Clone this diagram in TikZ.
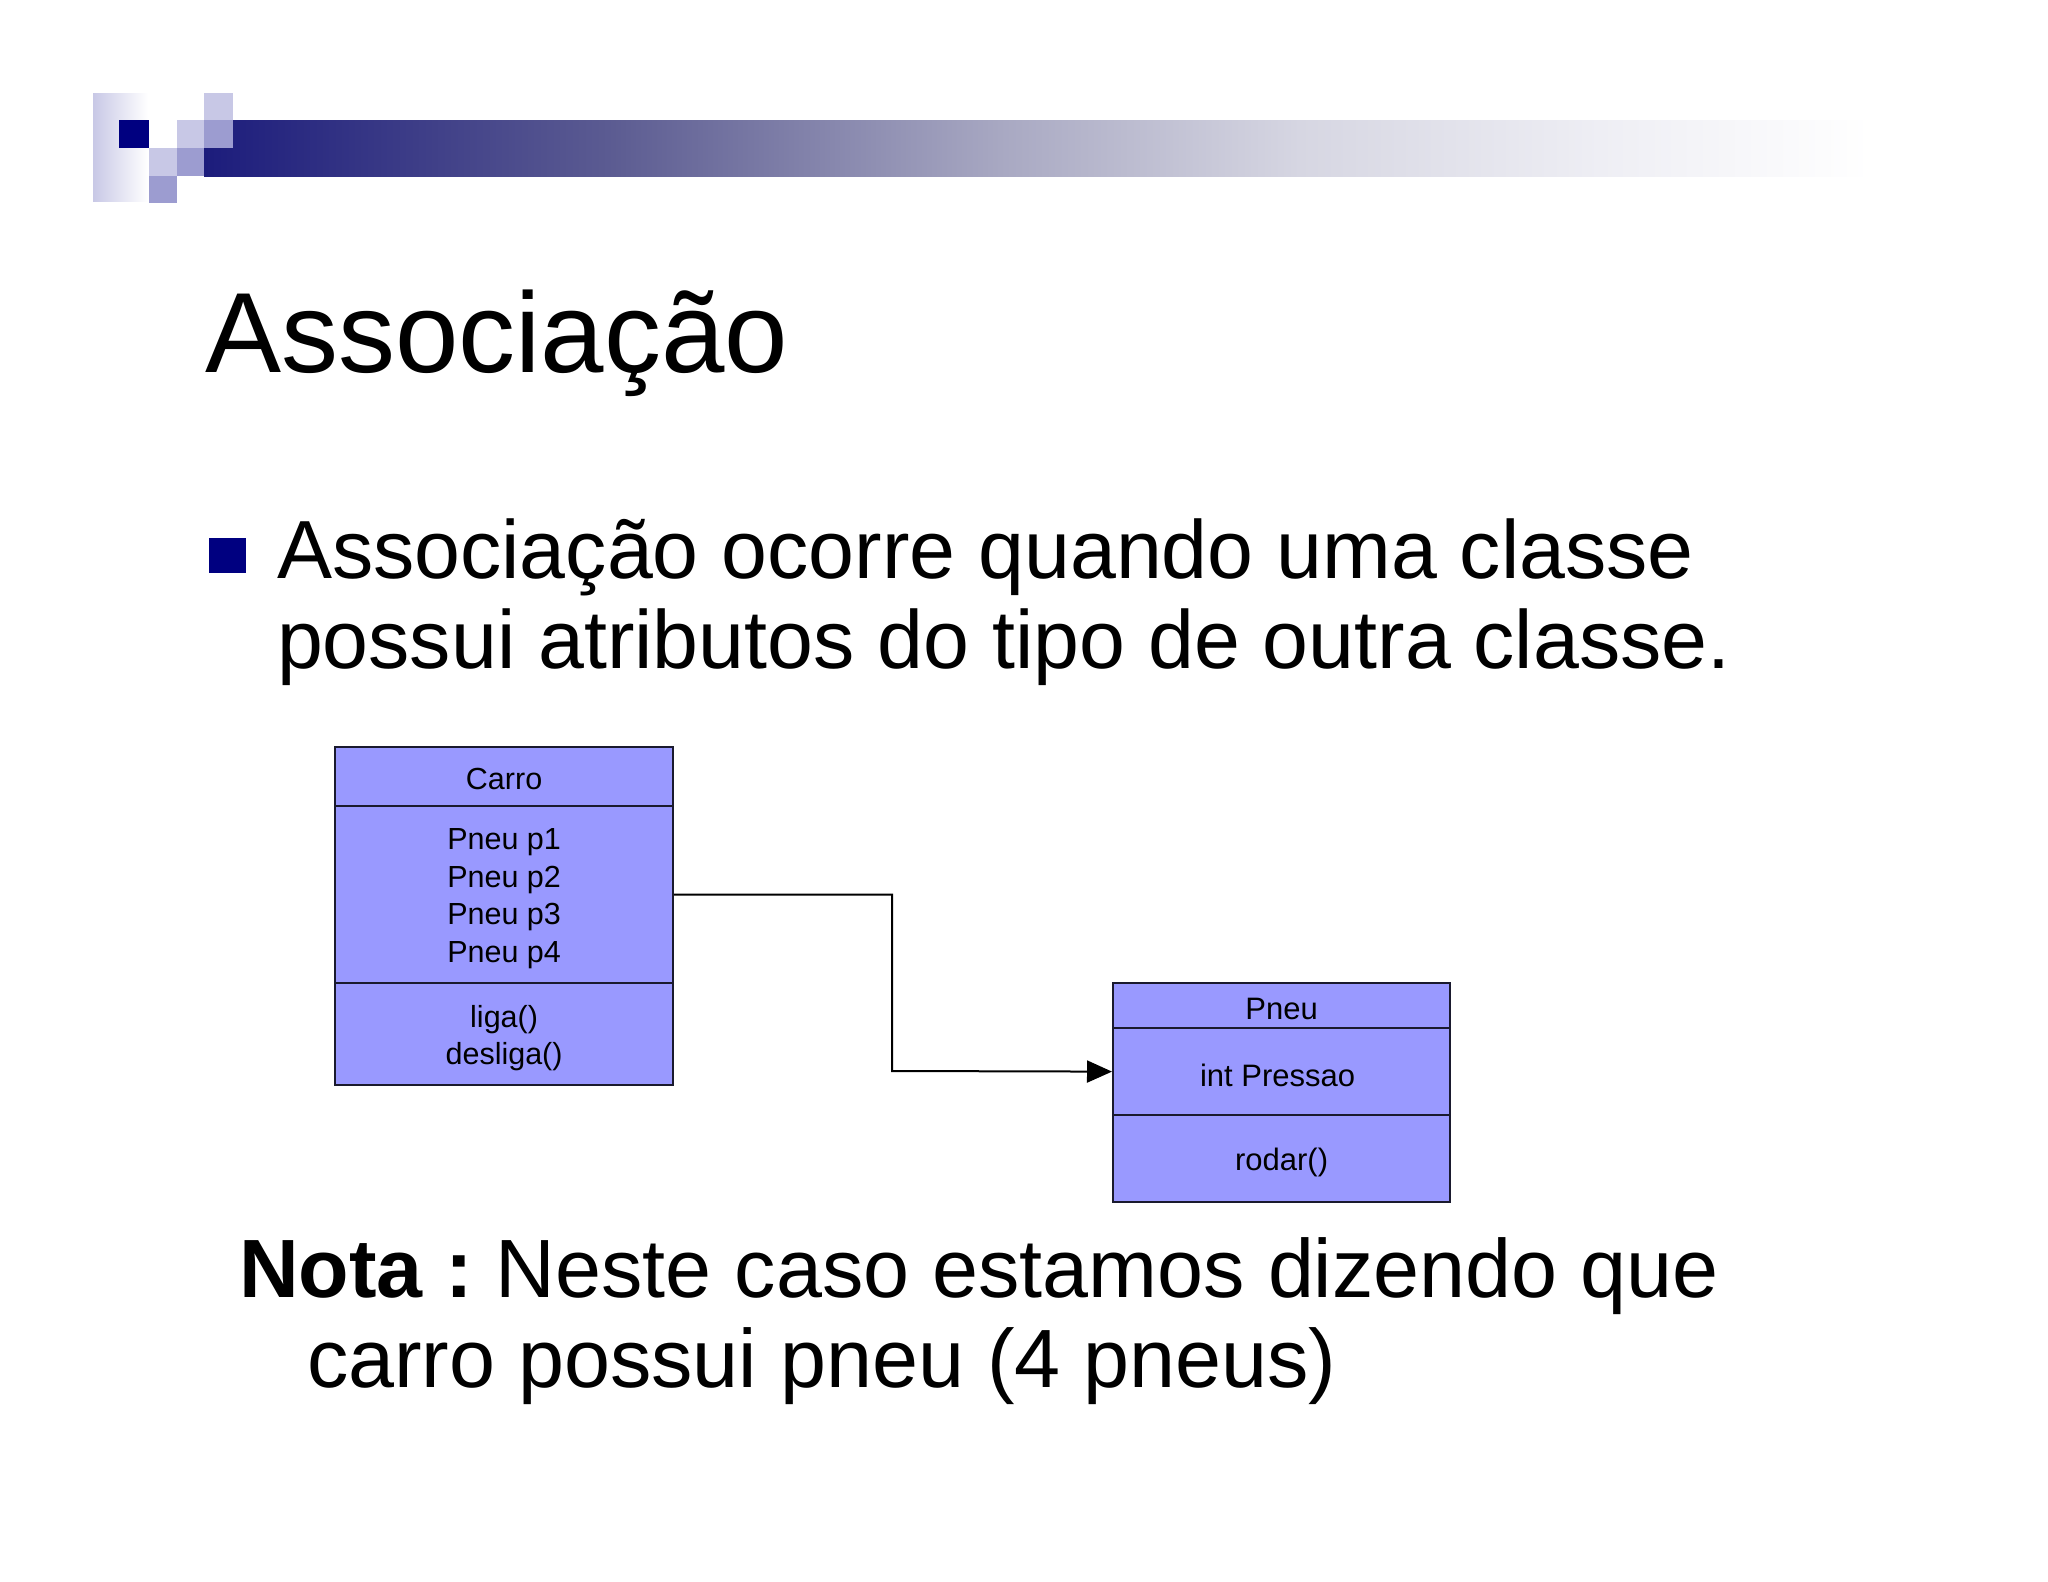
\documentclass[tikz,border=0pt]{standalone}
\usepackage{fontspec}
\setmainfont{Liberation Sans}
\usetikzlibrary{arrows.meta}
\definecolor{navy}{HTML}{000080}
\definecolor{sqlight}{HTML}{C8C8E6}
\definecolor{sqmid}{HTML}{9C9CD0}
\definecolor{umlfill}{HTML}{9999FF}
\definecolor{umlline}{HTML}{1A1A2E}
\tikzset{
  umlbox/.style={draw=umlline, line width=2.2pt, fill=umlfill, rectangle, minimum width=338pt, inner sep=0pt},
  pneubox/.style={umlbox, minimum width=337pt},
  carrotext/.style={inner sep=0pt, align=center, yshift=-4pt, font=\fontsize{30.5}{37.5}\selectfont},
  pneutext/.style={inner sep=0pt, align=center, yshift=-4pt, font=\fontsize{31}{37}\selectfont},
  txt/.style={anchor=base west, inner sep=0pt, outer sep=0pt},
  body/.style={txt, font=\fontsize{82.7}{91}\selectfont},
  assoc/.style={draw=black, line width=2pt, -{Triangle[length=25pt,width=22pt]}}
}
\begin{document}
\begin{tikzpicture}[x=1pt,y=-1pt]
\useasboundingbox (0,0) rectangle (2048,1582);
\fill[white] (0,0) rectangle (2048,1582);
% header decoration
\shade[left color=sqlight, right color=white] (93,93) rectangle (148,201);
\shade[left color={rgb,255:red,28;green,28;blue,124}, right color={rgb,255:red,92;green,92;blue,146}] (204,120) rectangle (614,176);
\shade[left color={rgb,255:red,92;green,92;blue,146}, right color={rgb,255:red,168;green,168;blue,194}] (613,120) rectangle (1000,176);
\shade[left color={rgb,255:red,168;green,168;blue,194}, right color={rgb,255:red,214;green,214;blue,226}] (999,120) rectangle (1300,176);
\shade[left color={rgb,255:red,214;green,214;blue,226}, right color={rgb,255:red,238;green,238;blue,244}] (1299,120) rectangle (1600,176);
\shade[left color={rgb,255:red,238;green,238;blue,244}, right color=white] (1599,120) rectangle (1870,176);
\fill[navy] (119,120) rectangle (149,148);
\fill[sqlight] (149,148) rectangle (177,176);
\fill[sqmid] (149,176) rectangle (177,203);
\fill[sqlight] (177,120) rectangle (204,148);
\fill[sqmid] (177,148) rectangle (204,176);
\fill[sqlight] (204,93) rectangle (233,120);
\fill[sqmid] (204,120) rectangle (233,148);
% title
\node[txt, font=\fontsize{114}{130}\selectfont] (title) at (205,372) {Associação};
% bullet
\fill[navy] (209,538) rectangle (246,573);
\node[body, font=\fontsize{82.5}{91}\selectfont] (b1) at (277,578) {Associação ocorre quando uma classe};
\node[body, font=\fontsize{82.5}{91}\selectfont] (b2) at (277,668) {possui atributos do tipo de outra classe.};
% UML Carro
\node[umlbox, minimum height=59pt, anchor=north west] (carroHead) at (334,746) {};
\node[umlbox, minimum height=177pt, anchor=north west] (carroAttr) at (334,805) {};
\node[umlbox, minimum height=102pt, anchor=north west] (carroOps) at (334,982) {};
\node[carrotext, yshift=2pt] (carroHeadT) at (carroHead.center) {Carro};
\node[carrotext] (carroAttrT) at (carroAttr.center) {Pneu p1\\Pneu p2\\Pneu p3\\Pneu p4};
\node[carrotext] (carroOpsT) at (carroOps.center) {liga()\\desliga()};
% UML Pneu
\node[pneubox, minimum height=45pt, anchor=north west] (pneuHead) at (1112,982) {};
\node[pneubox, minimum height=87pt, anchor=north west] (pneuAttr) at (1112,1027) {};
\node[pneubox, minimum height=87pt, anchor=north west] (pneuOps) at (1112,1114) {};
\node[pneutext, yshift=1pt] (pneuHeadT) at (pneuHead.center) {Pneu};
\node[pneutext, xshift=-4pt] (pneuAttrT) at (pneuAttr.center) {int Pressao};
\node[pneutext] (pneuOpsT) at (pneuOps.center) {rodar()};
% association
\coordinate (bend) at (892,1071);
\draw[assoc] (carroAttr.east) -| (bend) -- (pneuAttr.west);
% note
\node[body] (nota1) at (239,1297) {\textbf{Nota :}\hspace{-8pt} Neste caso estamos dizendo que};
\node[body] (nota2) at (307,1387) {carro possui pneu (4 pneus)};
\end{tikzpicture}
\end{document}
